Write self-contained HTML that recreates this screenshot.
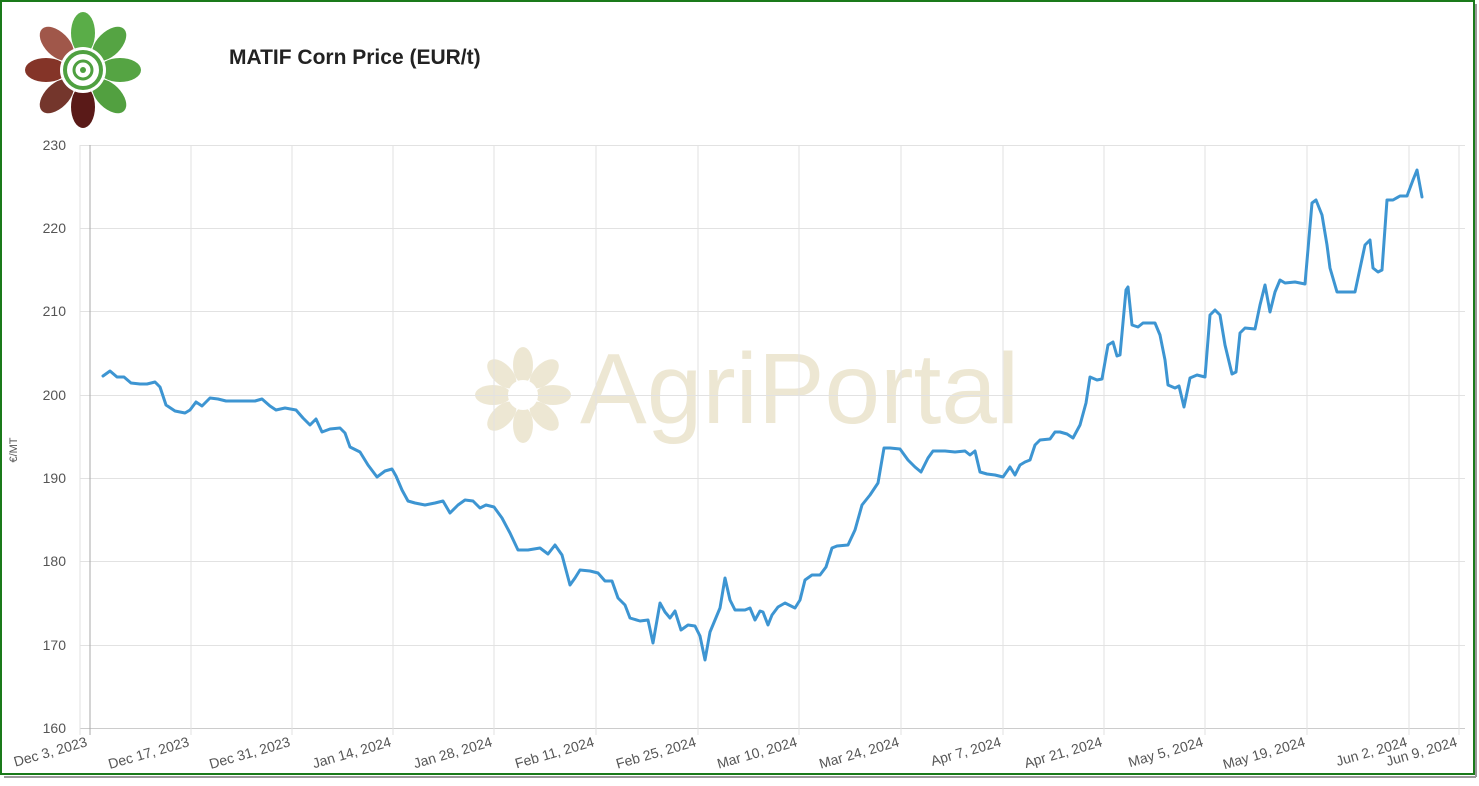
<!DOCTYPE html>
<html><head><meta charset="utf-8"><style>
body{margin:0;background:#fff;font-family:"Liberation Sans",sans-serif}
</style></head><body>
<svg width="1479" height="781" xmlns="http://www.w3.org/2000/svg" font-family="Liberation Sans, sans-serif">
<rect x="1" y="1" width="1473" height="773" fill="#fff" stroke="#1a7a1a" stroke-width="2"/>
<line x1="1476" y1="4" x2="1476" y2="777" stroke="#999" stroke-width="2"/>
<line x1="4" y1="777" x2="1476" y2="777" stroke="#999" stroke-width="2"/>
<!-- logo -->
<g transform="translate(83,70)">
<g>
<ellipse cx="0" cy="-37" rx="12" ry="21" fill="#5aad48"/>
<ellipse cx="0" cy="-37" rx="12" ry="21" fill="#55a443" transform="rotate(45)"/>
<ellipse cx="0" cy="-37" rx="12" ry="21" fill="#55a443" transform="rotate(90)"/>
<ellipse cx="0" cy="-37" rx="12" ry="21" fill="#52a040" transform="rotate(135)"/>
<ellipse cx="0" cy="-37" rx="12" ry="21" fill="#5a1a18" transform="rotate(180)"/>
<ellipse cx="0" cy="-37" rx="12" ry="21" fill="#74362c" transform="rotate(225)"/>
<ellipse cx="0" cy="-37" rx="12" ry="21" fill="#843428" transform="rotate(270)"/>
<ellipse cx="0" cy="-37" rx="12" ry="21" fill="#a0574a" transform="rotate(315)"/>
</g>
<circle r="23" fill="#fff"/>
<circle r="18" fill="none" stroke="#4fa040" stroke-width="4"/>
<circle r="9" fill="none" stroke="#4fa040" stroke-width="3"/>
<circle r="3" fill="#4fa040"/>
</g>
<text x="229" y="64" font-size="21" font-weight="bold" fill="#222">MATIF Corn Price (EUR/t)</text>
<!-- watermark -->
<g opacity="0.45">
<g transform="translate(523,395)">
<ellipse cx="0" cy="-30" rx="10" ry="18" fill="#d8cca0"/>
<ellipse cx="0" cy="-30" rx="10" ry="18" fill="#d8cca0" transform="rotate(45)"/>
<ellipse cx="0" cy="-30" rx="10" ry="18" fill="#d8cca0" transform="rotate(90)"/>
<ellipse cx="0" cy="-30" rx="10" ry="18" fill="#d8cca0" transform="rotate(135)"/>
<ellipse cx="0" cy="-30" rx="10" ry="18" fill="#d8cca0" transform="rotate(180)"/>
<ellipse cx="0" cy="-30" rx="10" ry="18" fill="#d8cca0" transform="rotate(225)"/>
<ellipse cx="0" cy="-30" rx="10" ry="18" fill="#d8cca0" transform="rotate(270)"/>
<ellipse cx="0" cy="-30" rx="10" ry="18" fill="#d8cca0" transform="rotate(315)"/>
<circle r="15" fill="#fff"/></g>
<text x="580" y="423" font-size="100" fill="#d8cca0">AgriPortal</text>
</g>
<!-- grid -->
<g stroke="#e2e2e2" stroke-width="1">
<line x1="80" y1="145.5" x2="1465" y2="145.5"/>
<line x1="80" y1="228.5" x2="1465" y2="228.5"/>
<line x1="80" y1="311.5" x2="1465" y2="311.5"/>
<line x1="80" y1="395.5" x2="1465" y2="395.5"/>
<line x1="80" y1="478.5" x2="1465" y2="478.5"/>
<line x1="80" y1="561.5" x2="1465" y2="561.5"/>
<line x1="80" y1="645.5" x2="1465" y2="645.5"/>
<line x1="80" y1="728.5" x2="1465" y2="728.5" stroke="#ccc"/>
<line x1="80" y1="145" x2="80" y2="735"/>
<line x1="191" y1="145" x2="191" y2="735"/>
<line x1="292" y1="145" x2="292" y2="735"/>
<line x1="393" y1="145" x2="393" y2="735"/>
<line x1="494" y1="145" x2="494" y2="735"/>
<line x1="596" y1="145" x2="596" y2="735"/>
<line x1="698" y1="145" x2="698" y2="735"/>
<line x1="799" y1="145" x2="799" y2="735"/>
<line x1="901" y1="145" x2="901" y2="735"/>
<line x1="1003" y1="145" x2="1003" y2="735"/>
<line x1="1104" y1="145" x2="1104" y2="735"/>
<line x1="1205" y1="145" x2="1205" y2="735"/>
<line x1="1307" y1="145" x2="1307" y2="735"/>
<line x1="1409" y1="145" x2="1409" y2="735"/>
<line x1="1459" y1="145" x2="1459" y2="735"/>
</g>
<line x1="90" y1="145" x2="90" y2="735" stroke="#aaa"/>
<g font-size="14" fill="#555" text-anchor="end">
<text x="66" y="150">230</text><text x="66" y="233">220</text><text x="66" y="316">210</text>
<text x="66" y="400">200</text><text x="66" y="483">190</text><text x="66" y="566">180</text>
<text x="66" y="650">170</text><text x="66" y="733">160</text>
</g>
<text transform="translate(17,450) rotate(-90)" font-size="11" fill="#555" text-anchor="middle">€/MT</text>
<g font-size="14" fill="#555" text-anchor="end">
<text transform="translate(88,746) rotate(-16)">Dec 3, 2023</text>
<text transform="translate(190,746) rotate(-16)">Dec 17, 2023</text>
<text transform="translate(291,746) rotate(-16)">Dec 31, 2023</text>
<text transform="translate(392,746) rotate(-16)">Jan 14, 2024</text>
<text transform="translate(493,746) rotate(-16)">Jan 28, 2024</text>
<text transform="translate(595,746) rotate(-16)">Feb 11, 2024</text>
<text transform="translate(697,746) rotate(-16)">Feb 25, 2024</text>
<text transform="translate(798,746) rotate(-16)">Mar 10, 2024</text>
<text transform="translate(900,746) rotate(-16)">Mar 24, 2024</text>
<text transform="translate(1002,746) rotate(-16)">Apr 7, 2024</text>
<text transform="translate(1103,746) rotate(-16)">Apr 21, 2024</text>
<text transform="translate(1204,746) rotate(-16)">May 5, 2024</text>
<text transform="translate(1306,746) rotate(-16)">May 19, 2024</text>
<text transform="translate(1408,746) rotate(-16)">Jun 2, 2024</text>
<text transform="translate(1458,746) rotate(-16)">Jun 9, 2024</text>
</g>
<polyline fill="none" stroke="#3d95d2" stroke-width="3" stroke-linejoin="round" stroke-linecap="round" points="103,376 110,371 117,377 124,377 131,383 140,384 147,384 155,382 160,387 166,405 175,411 185,413 190,410 196,402 202,406 210,398 218,399 226,401 240,401 255,401 262,399 270,406 276,410 285,408 296,410 303,418 310,425 316,419 322,432 330,429 340,428 345,433 350,447 360,452 368,465 377,477 385,471 392,469 396,476 402,490 408,501 415,503 425,505 435,503 443,501 450,513 458,505 465,500 473,501 480,508 486,505 494,507 502,518 510,533 518,550 528,550 540,548 548,554 555,545 562,555 570,585 575,578 580,570 590,571 598,573 605,581 612,581 618,598 625,605 630,618 640,621 648,620 653,643 660,603 665,612 670,618 675,611 681,630 688,625 695,626 700,636 705,660 710,632 715,620 720,608 725,578 730,600 735,610 745,610 750,608 755,620 760,611 763,612 768,625 772,615 778,607 785,603 795,608 800,600 805,580 812,575 820,575 826,567 832,548 837,546 848,545 855,530 862,505 870,495 878,483 884,448 890,448 900,449 908,460 915,467 921,472 928,458 933,451 945,451 955,452 965,451 970,455 975,451 980,472 987,474 995,475 1003,477 1010,467 1015,475 1020,465 1025,462 1030,460 1035,445 1040,440 1050,439 1055,432 1060,432 1067,434 1073,438 1080,425 1086,403 1090,377 1097,380 1102,379 1108,345 1113,342 1117,356 1120,355 1126,290 1128,287 1132,325 1138,327 1143,323 1155,323 1160,335 1165,360 1168,385 1175,388 1179,386 1184,407 1190,378 1197,375 1205,377 1210,315 1215,310 1220,315 1225,345 1232,374 1236,372 1240,333 1245,328 1255,329 1260,305 1265,285 1270,312 1275,292 1280,280 1285,283 1295,282 1305,284 1312,203 1316,200 1322,215 1327,245 1330,268 1337,292 1345,292 1355,292 1365,245 1370,240 1373,268 1378,272 1382,270 1387,200 1393,200 1400,196 1407,196 1413,180 1417,170 1422,197"/>
</svg>
</body></html>
